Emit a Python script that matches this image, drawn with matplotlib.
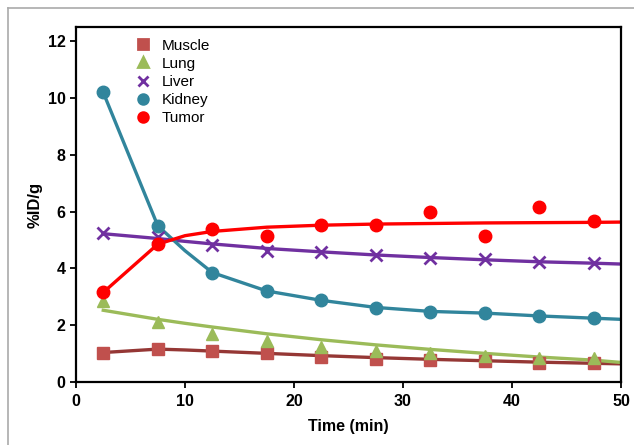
import numpy as np
import matplotlib.pyplot as plt
from matplotlib.lines import Line2D

plt.rcParams['font.family'] = ['Liberation Sans', 'DejaVu Sans']

# measured time points (min)
t = [2.5, 7.5, 12.5, 17.5, 22.5, 27.5, 32.5, 37.5, 42.5, 47.5]
muscle = [1.03, 1.17, 1.07, 1.0, 0.88, 0.8, 0.75, 0.72, 0.66, 0.66]
lung = [2.85, 2.12, 1.68, 1.42, 1.23, 1.09, 1.0, 0.92, 0.82, 0.82]
liver = [5.26, 5.12, 4.82, 4.62, 4.56, 4.46, 4.36, 4.34, 4.22, 4.2]
kidney = [10.2, 5.5, 3.85, 3.2, 2.87, 2.6, 2.46, 2.44, 2.33, 2.24]
tumor = [3.15, 4.85, 5.39, 5.15, 5.52, 5.52, 6.0, 5.13, 6.17, 5.66]

# fitted curves
t_fit = [2.5, 7.5, 10, 12.5, 17.5, 22.5, 27.5, 32.5, 37.5, 42.5, 47.5, 50]
muscle_fit = [1.03, 1.15, 1.12, 1.08, 1.0, 0.92, 0.85, 0.79, 0.74, 0.69, 0.65, 0.63]
lung_fit = [2.52, 2.2, 2.06, 1.93, 1.69, 1.48, 1.3, 1.14, 1.0, 0.87, 0.76, 0.68]
liver_fit = [5.22, 5.05, 4.95, 4.86, 4.7, 4.58, 4.47, 4.38, 4.3, 4.23, 4.18, 4.15]
kidney_fit = [10.2, 5.5, 4.62, 3.85, 3.2, 2.87, 2.62, 2.48, 2.42, 2.32, 2.24, 2.2]
tumor_fit = [3.15, 4.85, 5.15, 5.3, 5.45, 5.52, 5.56, 5.58, 5.6, 5.61, 5.62, 5.63]

names = ['Muscle', 'Lung', 'Liver', 'Kidney', 'Tumor']
mcol = ['#c0504d', '#9bbb59', '#7030a0', '#31859c', '#ff0000']
lcol = ['#953735', '#9bbb59', '#7030a0', '#31859c', '#ff0000']
marks = ['s', '^', 'x', 'o', 'o']
msizes = [8.5, 8.5, 9, 9, 9]

fig = plt.figure(figsize=(6.34, 4.45), dpi=100)
ax = fig.add_axes([0.1199, 0.1422, 0.8596, 0.7965])

pts = [muscle, lung, liver, kidney, tumor]
fits = [muscle_fit, lung_fit, liver_fit, kidney_fit, tumor_fit]
handles = []
for i in range(5):
    ax.plot(t_fit, fits[i], color=lcol[i], lw=2.4, zorder=2)
    if marks[i] == 'x':
        ax.plot(t, pts[i], ls='none', marker='x', ms=msizes[i], mew=2,
                color=mcol[i], zorder=3)
    else:
        ax.plot(t, pts[i], ls='none', marker=marks[i], ms=msizes[i],
                color=mcol[i], mec=mcol[i], zorder=3)
    handles.append(Line2D([], [], ls='none', marker=marks[i], ms=7,
                          color=mcol[i], mew=2))

ax.set_xlim(0, 50)
ax.set_ylim(0, 12.5)
ax.set_xticks([0, 10, 20, 30, 40, 50])
ax.set_yticks([0, 2, 4, 6, 8, 10, 12])
for s in ax.spines.values():
    s.set_linewidth(1.6)
ax.tick_params(direction='out', length=4, width=1.3, labelsize=11.5)
ax.tick_params(axis='x', pad=5)
for lb in ax.get_xticklabels() + ax.get_yticklabels():
    lb.set_fontweight('bold')
ax.set_xlabel('Time (min)', fontsize=11.5, fontweight='bold', labelpad=7)
ax.set_ylabel('%ID/g', fontsize=12, fontweight='bold', labelpad=4)

ax.legend(handles, names, loc='upper left', bbox_to_anchor=(0.095, 0.985),
          frameon=False, fontsize=11, handletextpad=0.6, labelspacing=0.27,
          handlelength=1.2, borderaxespad=0)

# thin grey frame around the picture
fig.add_artist(Line2D([8 / 634, 1], [1 - 8 / 445, 1 - 8 / 445],
                      color='#aaaaaa', lw=1.2))
fig.add_artist(Line2D([8 / 634, 8 / 634], [0, 1 - 8 / 445],
                      color='#aaaaaa', lw=1.2))

fig.savefig('out.png', dpi=100)
